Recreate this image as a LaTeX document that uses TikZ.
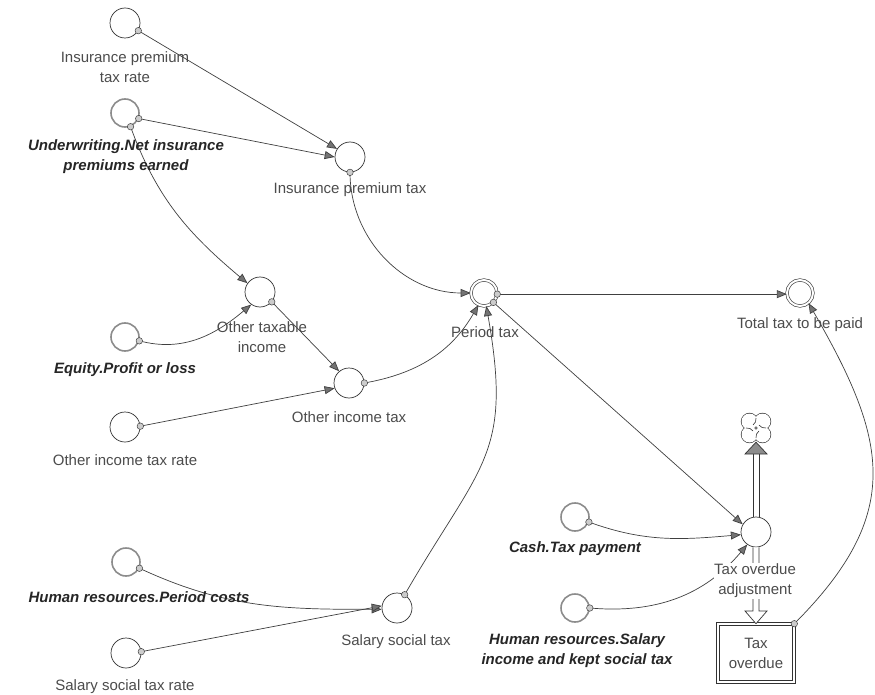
\documentclass[tikz,border=0pt]{standalone}
\usepackage{fontspec}
\setmainfont{Liberation Sans}
\usetikzlibrary{arrows.meta}
\begin{document}
\begin{tikzpicture}[x=1pt,y=-1pt,
  every node/.style={inner sep=0pt},
  aux/.style={circle,draw=black!80,line width=0.7pt,minimum size=30pt},
  ghost/.style={circle,draw=black!45,line width=1.6pt,minimum size=28pt},
  level/.style={circle,draw=black!80,line width=0.6pt,double,double distance=2pt,minimum size=26pt},
  stockbox/.style={rectangle,draw=black!80,line width=0.6pt,double,double distance=2pt,
    minimum width=76pt,minimum height=58pt,lbl},
  lbl/.style={text=black!70,font=\fontsize{15}{20}\selectfont,align=center},
  xlbl/.style={text=black!85,font=\fontsize{15}{20}\selectfont\bfseries\itshape,align=center},
  link/.style={draw=black!75,line width=0.7pt,-{Triangle[length=10pt,width=8pt,fill=black!55]}},
  port/.style={circle,draw=black!75,fill=black!20,line width=0.5pt,minimum size=6.5pt},
  pipe/.style={draw=black!80,line width=0.7pt},
  puff/.style={circle,minimum size=16pt},
]
\useasboundingbox[fill=white] (0,0) rectangle (875,695);

% ---- variables ----
\node[aux]   (ipr)  at (125,23)  {};
\node[ghost] (uw)   at (125,113) {};
\node[aux]   (ipt)  at (350,157) {};
\node[aux]   (oti)  at (260,292) {};
\node[ghost] (eq)   at (125,337) {};
\node[aux]   (oit)  at (349,383) {};
\node[aux]   (oitr) at (125,427) {};
\node[level] (pt)   at (484,293) {};
\node[level] (tt)   at (800,293) {};
\node[aux]   (valve) at (756,532) {};
\node[ghost] (cash) at (575,517) {};
\node[ghost] (hrs)  at (575,608) {};
\node[ghost] (hrp)  at (126,562) {};
\node[aux]   (sst)  at (397,608) {};
\node[aux]   (sstr) at (126,653) {};
\node[stockbox] (stock) at (756,653) {Tax\\overdue};
\node[minimum size=28pt] (cloud) at (756,428) {};

% ---- cloud (source/sink): four puffs, outline of their union ----
\foreach \dx/\dy in {-6.5/-6.5,6.5/-6.5,-6.5/6.5,6.5/6.5}
  \node[puff,draw=black!80,line width=1.3pt] at ([shift={(\dx,\dy)}]cloud.center) {};
\foreach \dx/\dy in {-6.5/-6.5,6.5/-6.5,-6.5/6.5,6.5/6.5}
  \node[puff,fill=white] at ([shift={(\dx,\dy)}]cloud.center) {};
\draw[pipe,line width=0.6pt] ([shift={(0,-10)}]cloud.center) to[bend left=30] ([shift={(-3,-3)}]cloud.center);
\draw[pipe,line width=0.6pt] ([shift={(10,0)}]cloud.center) to[bend left=30] ([shift={(3,-3)}]cloud.center);
\draw[pipe,line width=0.6pt] ([shift={(0,10)}]cloud.center) to[bend left=30] ([shift={(3,3)}]cloud.center);
\draw[pipe,line width=0.6pt] ([shift={(-10,0)}]cloud.center) to[bend left=30] ([shift={(-3,3)}]cloud.center);

% ---- flow pipes ----
\coordinate (cb) at (756,454);
\coordinate (fb) at (756,611);
\draw[pipe] ([xshift=-3pt]valve.north) -- ([xshift=-3pt]cb);
\draw[pipe] ([xshift=3pt]valve.north) -- ([xshift=3pt]cb);
\filldraw[pipe,fill=black!45] ([xshift=-11pt]cb) -- ([xshift=11pt]cb) -- (cloud.south) -- cycle;
\draw[pipe,fill=white] ([xshift=-3pt]valve.south) -- ([xshift=-3pt]fb) -- ([xshift=-11pt]fb)
  -- (stock.north) -- ([xshift=11pt]fb) -- ([xshift=3pt]fb) -- ([xshift=3pt]valve.south);

% ---- connectors ----
\draw[link] (ipr.-30) -- (ipt.148);
\draw[link] (uw.-22) -- (ipt.180);
\draw[link] (uw.-68) to[out=-70,in=140] (oti.145);
\draw[link] (eq.-15) to[out=-15,in=220] (oti.235);
\draw[link] (oti.-40) -- (oit.130);
\draw[link] (oitr.3) -- (oit.200);
\draw[link] (oit.0) to[out=10,in=240] (pt.245);
\draw[link] (sst.60) to[out=60,in=-80,looseness=1.3] (pt.280);
\draw[link] (ipt.-90) to[out=-90,in=180] (pt.180);
\draw[link] (pt.-5) -- (tt.185);
\draw[link] (pt.-45) -- (valve.150);
\draw[link] (cash.-20) to[out=-20,in=185] (valve.190);
\draw[link] (hrs.0) to[out=-5,in=230] (valve.235);
\draw[link] (hrp.-25) to[out=-25,in=180] (sst.185);
\draw[link] (sstr.5) -- (sst.172);
\draw[link] (stock.north east) to[out=45,in=-60,looseness=1.25] (tt.-50);

% ---- output ports ----
\node[port] (q1)  at (ipr.-30) {};
\node[port] (q2)  at (uw.-22) {};
\node[port] (q3)  at (uw.-68) {};
\node[port] (q4)  at (eq.-15) {};
\node[port] (q5)  at (oti.-40) {};
\node[port] (q6)  at (oitr.3) {};
\node[port] (q7)  at (oit.0) {};
\node[port] (q8)  at (sst.60) {};
\node[port] (q9)  at (ipt.-90) {};
\node[port] (q10) at (pt.-5) {};
\node[port] (q11) at (pt.-45) {};
\node[port] (q12) at (cash.-20) {};
\node[port] (q13) at (hrs.0) {};
\node[port] (q14) at (hrp.-25) {};
\node[port] (q15) at (sstr.5) {};
\node[port] (q16) at (stock.north east) {};

% ---- labels ----
\node[lbl]  (l-ipr)  at (125,67)  {Insurance premium\\tax rate};
\node[xlbl] (l-uw)   at (126,157) {Underwriting.Net insurance\\premiums earned};
\node[lbl]  (l-ipt)  at (350,190) {Insurance premium tax};
\node[lbl]  (l-oti)  at (262,337) {Other taxable\\income};
\node[xlbl] (l-eq)   at (125,370) {Equity.Profit or loss};
\node[lbl]  (l-oit)  at (349,417) {Other income tax};
\node[lbl]  (l-oitr) at (125,460) {Other income tax rate};
\node[lbl]  (l-pt)   at (485,332) {Period tax};
\node[lbl]  (l-tt)   at (800,325) {Total tax to be paid};
\node[lbl,fill=white,inner ysep=1pt] (l-valve) at (755,581) {Tax overdue\\adjustment};
\node[xlbl] (l-cash) at (575,549) {Cash.Tax payment};
\node[xlbl] (l-hrs)  at (577,651) {Human resources.Salary\\income and kept social tax};
\node[xlbl] (l-hrp)  at (139,597) {Human resources.Period costs};
\node[lbl]  (l-sst)  at (396,642) {Salary social tax};
\node[lbl]  (l-sstr) at (125,687) {Salary social tax rate};
\end{tikzpicture}
\end{document}
